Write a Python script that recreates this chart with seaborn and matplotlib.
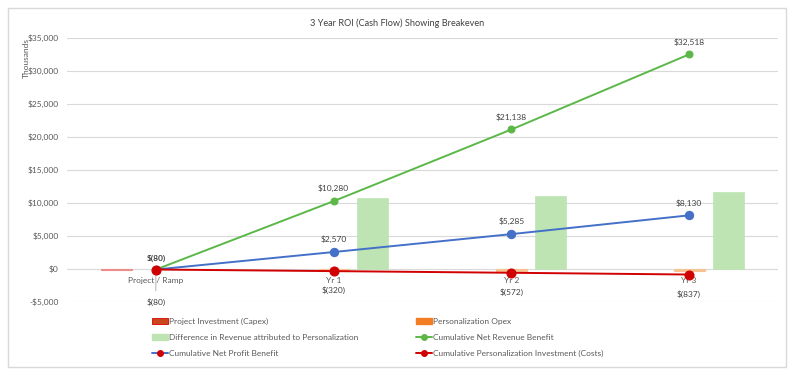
import matplotlib
matplotlib.use('Agg')
import matplotlib.pyplot as plt
import seaborn as sns
import numpy as np
from matplotlib.lines import Line2D
from matplotlib.patches import Patch, Rectangle
from matplotlib.ticker import FuncFormatter

# values (thousands of $)
categories = ['Project / Ramp', 'Yr 1', 'Yr 2', 'Yr 3']
capex = [-80, 0, 0, 0]
opex = [0, -240, -252, -265]
revenue_diff = [0, 10710, 11110, 11660]
cum_net_revenue = [-80, 10280, 21138, 32518]
cum_net_profit = [-80, 2570, 5285, 8130]
cum_costs = [-80, -320, -572, -837]

sns.set_style('white')
plt.rcParams['font.family'] = ['Lato', 'DejaVu Sans']

TXT = '#595959'
GREEN = '#5BB848'
BLUE = '#4470C8'
RED = '#D10000'


def money(v):
    return f'${v:,.0f}' if v >= 0 else f'$({-v:,.0f})'


def edge_widths(vals, w):
    # no outline on empty bars, otherwise they show up as thin lines
    return [w if v else 0 for v in vals]


fig = plt.figure(figsize=(7.95, 3.76), dpi=100)
ax = fig.add_axes([67 / 795, 1 - 302 / 376, (778 - 67) / 795, (302 - 38) / 376])

x = np.arange(len(categories))
bw = 0.174
ax.bar(x - 0.22, capex, width=bw, color='#EE8C8C', edgecolor='#EE8C8C',
       lw=edge_widths(capex, 0.8), zorder=2)
ax.bar(x, opex, width=bw, color='#F8C393', edgecolor='#F8C393',
       lw=edge_widths(opex, 0.8), zorder=2)
ax.bar(x + 0.22, revenue_diff, width=bw, color='#BEE4B3', edgecolor='#BEE4B3',
       lw=edge_widths(revenue_diff, 0.5), zorder=2)

sns.lineplot(x=x, y=cum_net_revenue, color=GREEN, marker='o', markersize=5,
             markeredgecolor=GREEN, lw=1.4, ax=ax, zorder=3)
sns.lineplot(x=x, y=cum_net_profit, color=BLUE, marker='o', markersize=6,
             markeredgecolor=BLUE, lw=1.4, ax=ax, zorder=3)
sns.lineplot(x=x, y=cum_costs, color=RED, marker='o', markersize=6.5,
             markeredgecolor=RED, lw=1.4, ax=ax, zorder=4)

# data labels
for i in range(1, len(x)):
    ax.annotate(money(cum_net_revenue[i]), (x[i], cum_net_revenue[i]), xytext=(0, 9),
                textcoords='offset points', ha='center', va='center', fontsize=6, color='#404040')
    ax.annotate(money(cum_net_profit[i]), (x[i], cum_net_profit[i]), xytext=(0, 9),
                textcoords='offset points', ha='center', va='center', fontsize=6, color='#404040')
    ax.annotate(money(cum_costs[i]), (x[i], cum_costs[i]), xytext=(0, -14),
                textcoords='offset points', ha='center', va='center', fontsize=6, color='#404040')
ax.annotate(money(cum_costs[0]), (x[0], cum_costs[0]), xytext=(0, 8),
            textcoords='offset points', ha='center', va='center', fontsize=6,
            color='#404040', fontweight='bold')
ax.annotate(money(cum_costs[0]), (x[0], cum_costs[0]), xytext=(0, -23.5),
            textcoords='offset points', ha='center', va='center', fontsize=6, color='#404040',
            arrowprops=dict(arrowstyle='-', color='#A6A6A6', lw=0.6, shrinkA=3, shrinkB=4))

# category labels sit on the zero line
for i, c in enumerate(categories):
    ax.annotate(c, (x[i], 0), xytext=(0, -8), textcoords='offset points',
                ha='center', va='center', fontsize=6, color=TXT)

ax.set_xlim(-0.5, 3.5)
ax.set_ylim(-5000, 35000)
ax.set_yticks(np.arange(-5000, 35001, 5000))
ax.yaxis.set_major_formatter(FuncFormatter(lambda v, p: f'${v:,.0f}' if v >= 0 else f'-${-v:,.0f}'))
ax.set_xticks([])
ax.tick_params(axis='y', length=0, pad=6, labelsize=6, labelcolor=TXT)
ax.grid(axis='y', color='#D9D9D9', lw=0.8, zorder=0)
ax.set_axisbelow(True)
for s in ax.spines.values():
    s.set_visible(False)
ax.set_xlabel('')
ax.set_ylabel('')

fig.text(26 / 795, 1 - 58 / 376, 'Thousands', rotation=90, ha='center', va='center',
         fontsize=6, color=TXT)
fig.text(0.5, 1 - 23 / 376, '3 Year ROI (Cash Flow) Showing Breakeven', ha='center',
         va='center', fontsize=6.6, color='#404040')

handles = [
    Patch(facecolor='#C9471C', edgecolor='#E00000', lw=0.6),
    Patch(facecolor='#BEE4B3', edgecolor='#BEE4B3'),
    Line2D([], [], color=BLUE, lw=1.4, marker='o', markersize=4, markerfacecolor=RED,
           markeredgecolor=RED),
    Patch(facecolor='#F27D22', edgecolor='#F27D22'),
    Line2D([], [], color=GREEN, lw=1.4, marker='o', markersize=4, markerfacecolor=GREEN,
           markeredgecolor=GREEN),
    Line2D([], [], color=RED, lw=1.4, marker='o', markersize=4, markerfacecolor=RED,
           markeredgecolor=RED),
]
labels = ['Project Investment (Capex)',
          'Difference in Revenue attributed to Personalization',
          'Cumulative Net Profit Benefit',
          'Personalization Opex',
          'Cumulative Net Revenue Benefit',
          'Cumulative Personalization Investment (Costs)']
leg = fig.legend(handles, labels, ncol=2, loc='upper left',
                 bbox_to_anchor=(152 / 795, 1 - 318 / 376), frameon=False, fontsize=6,
                 handlelength=1.9, handleheight=0.6, handletextpad=0.1,
                 labelspacing=1.05, columnspacing=7.0, borderaxespad=0, borderpad=0)
for t in leg.get_texts():
    t.set_color(TXT)

fig.patches.append(Rectangle((8 / 795, 1 - 367 / 376), (786 - 8) / 795, (367 - 8) / 376,
                             transform=fig.transFigure, fill=False, ec='#D9D9D9', lw=1))

fig.savefig('out.png', dpi=100)
